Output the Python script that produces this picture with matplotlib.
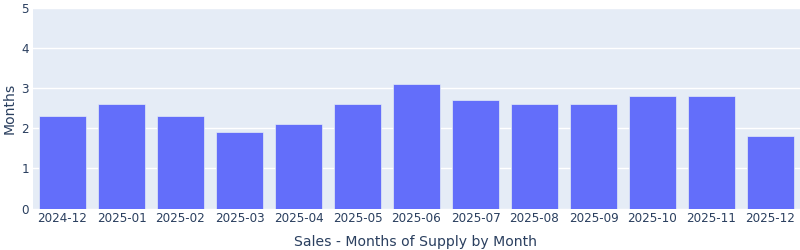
import matplotlib
matplotlib.use("Agg")
import matplotlib.pyplot as plt

months = ["2024-12", "2025-01", "2025-02", "2025-03", "2025-04", "2025-05", "2025-06",
          "2025-07", "2025-08", "2025-09", "2025-10", "2025-11", "2025-12"]
supply = [2.3, 2.6, 2.3, 1.9, 2.1, 2.6, 3.1, 2.7, 2.6, 2.6, 2.8, 2.8, 1.8]
y_ticks = [0, 1, 2, 3, 4, 5]

plt.rcParams['font.family'] = ['DejaVu Sans']
text_color = "#2a3f5f"

W, H = 800, 250
left_px, top_px, bottom_px, right_px = 33, 8, 208.5, 800
fig = plt.figure(figsize=(8, 2.5), dpi=100)
ax = fig.add_axes([left_px/W, 1 - bottom_px/H, (right_px - left_px)/W, (bottom_px - top_px)/H])
ax.set_facecolor("#E5ECF6")

x = list(range(len(months)))
ax.bar(x, supply, width=0.8, color="#636efa", edgecolor="#E5ECF6", linewidth=0.5, zorder=3)

ax.set_xlim(-0.5, len(months) - 0.5)
ax.set_ylim(0, 5)
ax.set_yticks(y_ticks)
ax.set_xticks(x)
ax.set_xticklabels(months)
ax.grid(axis='y', color='white', linewidth=1, zorder=0)
ax.set_axisbelow(True)
for s in ax.spines.values():
    s.set_visible(False)
ax.tick_params(axis='both', length=0, labelsize=8.64, labelcolor=text_color)
ax.tick_params(axis='x', pad=2.5)
ax.tick_params(axis='y', pad=3)

ax.set_xlabel("Sales - Months of Supply by Month", fontsize=10.08, color=text_color, va='center')
ax.set_ylabel("Months", fontsize=10.08, color=text_color, va='center')
ax_h = bottom_px - top_px
ax_w = right_px - left_px
ax.xaxis.set_label_coords(0.5 - (right_px - left_px - (800 - 0)) / 2 / ax_w * 0 + (416 - (left_px + ax_w/2)) / ax_w, -(242 - bottom_px) / ax_h)
ax.yaxis.set_label_coords(-(left_px - 10) / ax_w, 0.5 - (108.5 - (top_px + ax_h/2)) / ax_h)

fig.savefig("out.png", dpi=100)
